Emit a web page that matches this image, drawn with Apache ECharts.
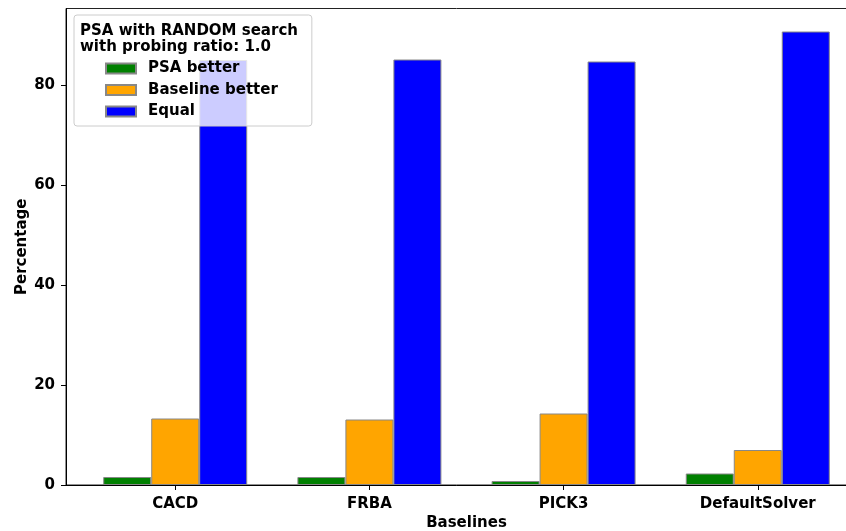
<!DOCTYPE html>
<html lang="en">
<head>
  <meta charset="UTF-8">
  <title>PSA vs baselines</title>
  <style>
    * { margin: 0; padding: 0; }
    body { background: #fff; }
    #chart { width: 846px; height: 531px; }
  </style>
</head>
<body>
  <div id="chart"></div>
  <script src="https://cdn.jsdelivr.net/npm/echarts@6/dist/echarts.min.js"></script>
  <script>
    // data
    const baselines = ['CACD', 'FRBA', 'PICK3', 'DefaultSolver'];
    const psaBetter = [1.6, 1.6, 0.8, 2.3];
    const baselineBetter = [13.3, 13.1, 14.3, 7.0];
    const equal = [85.0, 85.1, 84.7, 90.7];
    const yTicks = [0, 20, 40, 60, 80];

    const font = 'DejaVu Sans';
    const toPairs = arr => arr.map((v, i) => [i, v]);

    function barSeries(name, color, values) {
      return {
        name: name,
        type: 'bar',
        barWidth: 48,
        barGap: '0%',
        itemStyle: { color: color, borderColor: '#888', borderWidth: 1 },
        data: toPairs(values)
      };
    }

    const chart = echarts.init(document.getElementById('chart'));
    chart.setOption({
      animation: false,
      textStyle: { fontFamily: font },
      // plot runs a bit past the right edge of the picture, like the original
      grid: {
        left: 66, top: 8.5, bottom: 46, right: -21,
        outerBoundsMode: 'none',
        show: true, borderColor: '#222', borderWidth: 1
      },
      title: {
        text: 'PSA with RANDOM search\nwith probing ratio: 1.0',
        left: 75, top: 18,
        textStyle: { fontFamily: font, fontSize: 15, fontWeight: 'bold', color: '#000', lineHeight: 16 }
      },
      legend: {
        left: 74, top: 15,
        orient: 'vertical',
        icon: 'rect',
        padding: [46, 34, 7, 31],
        itemWidth: 30, itemHeight: 10, itemGap: 6.5,
        backgroundColor: 'rgba(255,255,255,0.8)',
        borderColor: '#ccc', borderWidth: 1, borderRadius: 3,
        textStyle: { fontFamily: font, fontSize: 15, fontWeight: 'bold', color: '#000', padding: [0, 0, 0, 7] },
        data: ['PSA better', 'Baseline better', 'Equal']
      },
      xAxis: {
        type: 'value',
        min: -0.5625, max: 3.5625,
        name: 'Baselines',
        nameLocation: 'middle',
        nameGap: 31,
        nameMoveOverlap: false,
        nameTextStyle: { fontFamily: font, fontSize: 15, fontWeight: 'bold', color: '#000' },
        splitLine: { show: false },
        axisLine: { onZero: false, lineStyle: { color: '#000' } },
        axisTick: { show: true, length: 5, customValues: [0, 1, 2, 3], lineStyle: { color: '#000' } },
        axisLabel: {
          customValues: [0, 1, 2, 3],
          margin: 12,
          fontFamily: font, fontSize: 15, fontWeight: 'bold', color: '#000',
          formatter: v => baselines[v]
        }
      },
      yAxis: {
        type: 'value',
        min: 0, max: 95.3,
        name: 'Percentage',
        nameLocation: 'middle',
        nameGap: 36,
        nameMoveOverlap: false,
        nameTextStyle: { fontFamily: font, fontSize: 15, fontWeight: 'bold', color: '#000' },
        splitLine: { show: false },
        axisLine: { show: true, onZero: false, lineStyle: { color: '#000' } },
        axisTick: { show: true, length: 5, customValues: yTicks, lineStyle: { color: '#000' } },
        axisLabel: {
          customValues: yTicks,
          margin: 11,
          fontFamily: font, fontSize: 15, fontWeight: 'bold', color: '#000'
        }
      },
      series: [
        barSeries('PSA better', '#008000', psaBetter),
        barSeries('Baseline better', '#ffa500', baselineBetter),
        barSeries('Equal', '#0000ff', equal)
      ]
    });
  </script>
</body>
</html>
